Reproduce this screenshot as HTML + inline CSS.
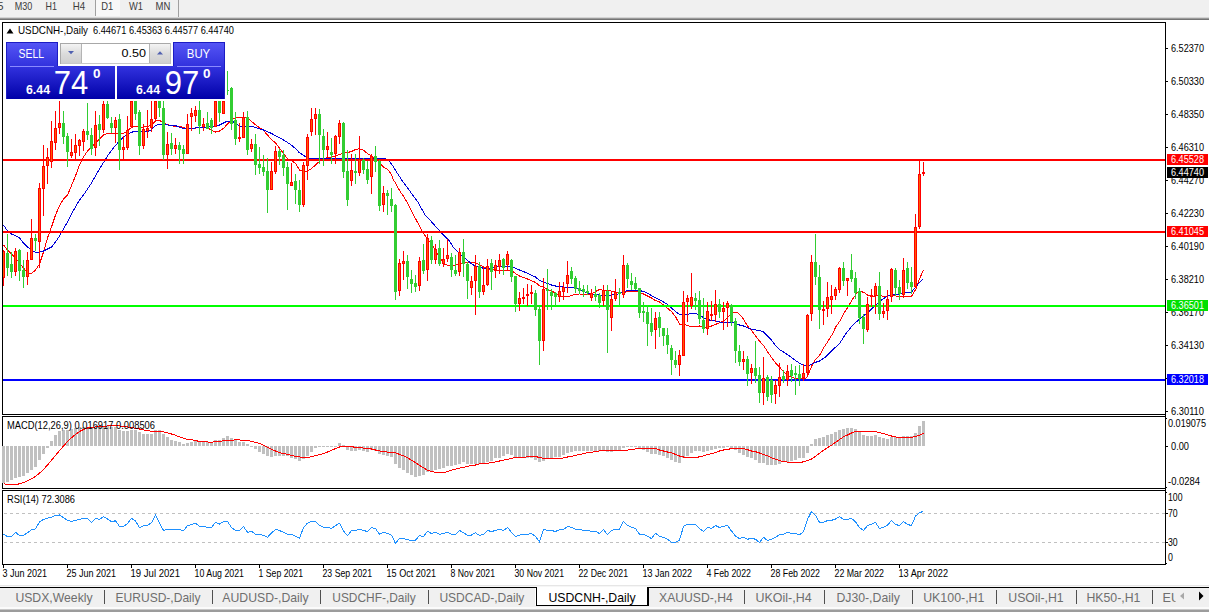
<!DOCTYPE html>
<html><head><meta charset="utf-8"><title>USDCNH-,Daily</title>
<style>
html,body{margin:0;padding:0;background:#fff;}
body{width:1209px;height:612px;overflow:hidden;font-family:"Liberation Sans",sans-serif;}
svg{display:block;}
text{font-family:"Liberation Sans",sans-serif;}
.s{font-size:10.3px;fill:#000;}
.w{font-size:10.3px;fill:#fff;}
.tb{font-size:10.5px;fill:#3c3c3c;}
.tab{font-size:12.6px;fill:#6e6e6e;}
.taba{font-size:12.6px;fill:#000;}
</style></head><body>
<svg width="1209" height="612" viewBox="0 0 1209 612">
<defs>
<linearGradient id="pg" x1="0" y1="0" x2="0" y2="1"><stop offset="0" stop-color="#5656f6"/><stop offset="0.45" stop-color="#3030dc"/><stop offset="1" stop-color="#0000a8"/></linearGradient>
<linearGradient id="bg" x1="0" y1="0" x2="0" y2="1"><stop offset="0" stop-color="#f4f4f4"/><stop offset="0.5" stop-color="#dcdcdc"/><stop offset="1" stop-color="#cfcfcf"/></linearGradient>
<clipPath id="cm"><path d="M227 23H1165V414H3V101H227Z"/></clipPath>
</defs>
<rect width="1209" height="612" fill="#fff"/>

<g shape-rendering="crispEdges">
<rect x="0" y="0" width="1209" height="17" fill="#f0f0f0"/>
<rect x="0" y="17" width="1209" height="1" fill="#d4d4d4"/>
<rect x="0" y="18" width="1209" height="1" fill="#9a9a9a"/>
<rect x="0" y="19" width="1209" height="1" fill="#747474"/>
<rect x="96" y="0" width="24" height="16" fill="#f8f8f8"/>
<rect x="95" y="0" width="1" height="16" fill="#a0a0a0"/>
<rect x="178" y="0" width="1" height="17" fill="#a0a0a0"/>
</g>
<text class="tb" x="-2.5" y="10" textLength="6" lengthAdjust="spacingAndGlyphs">5</text>
<text class="tb" x="14.8" y="10" textLength="17.6" lengthAdjust="spacingAndGlyphs">M30</text>
<text class="tb" x="45.6" y="10" textLength="11.4" lengthAdjust="spacingAndGlyphs">H1</text>
<text class="tb" x="72.8" y="10" textLength="12.4" lengthAdjust="spacingAndGlyphs">H4</text>
<text class="tb" x="101.3" y="10" textLength="12" lengthAdjust="spacingAndGlyphs">D1</text>
<text class="tb" x="129" y="10" textLength="14" lengthAdjust="spacingAndGlyphs">W1</text>
<text class="tb" x="155.6" y="10" textLength="14.8" lengthAdjust="spacingAndGlyphs">MN</text>
<g shape-rendering="crispEdges" fill="#000">
<rect x="2" y="22" width="1164" height="1"/>
<rect x="2" y="22" width="1" height="393"/>
<rect x="2" y="414" width="1164" height="1"/>
<rect x="1165" y="22" width="1" height="543"/>
<rect x="2" y="416" width="1164" height="1"/>
<rect x="2" y="416" width="1" height="73"/>
<rect x="2" y="488" width="1164" height="1"/>
<rect x="2" y="490" width="1164" height="1"/>
<rect x="2" y="490" width="1" height="75"/>
<rect x="2" y="564" width="1164" height="1"/>
</g>
<g clip-path="url(#cm)" shape-rendering="crispEdges">
<polyline fill="none" stroke="#ff0000" stroke-width="1" points="3.5,245.0 7.5,250.0 11.5,254.0 15.5,258.0 19.5,263.0 23.5,268.0 27.5,273.0 31.5,273.5 35.5,270.0 39.5,264.0 43.5,252.0 47.5,238.0 51.5,227.0 55.5,215.0 59.5,206.0 63.5,199.0 67.5,195.0 75.5,176.0 79.5,165.0 83.5,157.0 87.5,151.0 91.5,147.0 95.5,143.0 99.5,138.8 103.5,135.0 107.5,133.4 111.5,133.4 115.5,133.4 119.5,133.4 123.5,133.4 127.5,131.0 131.5,127.3 135.5,126.4 139.5,127.3 143.5,127.0 147.5,126.4 151.5,125.0 155.5,121.0 159.5,120.6 163.5,122.3 167.5,124.8 171.5,125.6 175.5,126.4 179.5,126.4 183.5,127.3 187.5,128.9 191.5,128.9 195.5,128.0 199.5,127.3 203.5,127.0 207.5,127.3 211.5,130.6 215.5,132.0 219.5,131.0 223.5,128.4 227.5,124.0 231.5,119.7 235.5,118.0 239.5,117.2 243.5,117.0 247.5,117.5 251.5,121.4 255.5,124.7 259.5,127.6 263.5,130.5 267.5,135.0 271.5,139.6 275.5,143.0 279.5,148.0 283.5,153.6 287.5,158.6 291.5,160.7 295.5,163.5 299.5,170.0 303.5,171.0 307.5,171.0 311.5,168.5 315.5,165.0 319.5,161.4 323.5,159.0 327.5,157.5 331.5,157.0 335.5,156.0 339.5,154.4 343.5,153.0 347.5,152.5 351.5,151.5 355.5,149.5 359.5,148.7 363.5,150.3 367.5,153.6 371.5,156.2 375.5,158.2 379.5,163.0 383.5,167.0 387.5,169.3 391.5,174.3 393.5,180.0 395.5,183.0 399.5,190.5 403.5,196.3 407.5,203.0 411.5,211.2 415.5,218.6 419.5,226.0 423.5,233.5 427.5,239.0 431.5,244.3 435.5,250.0 439.5,257.0 443.5,263.7 447.5,265.3 451.5,265.3 455.5,265.3 459.5,264.0 463.5,263.0 467.5,262.5 471.5,262.5 475.5,262.9 479.5,264.5 483.5,267.0 487.5,268.6 491.5,269.5 495.5,270.3 499.5,270.6 503.5,270.6 507.5,270.3 511.5,270.3 515.5,273.6 519.5,276.0 523.5,277.4 527.5,279.0 531.5,280.7 535.5,282.4 539.5,285.7 543.5,287.3 547.5,289.3 551.5,291.0 555.5,293.0 559.5,295.6 563.5,296.8 567.5,296.5 571.5,295.6 575.5,294.3 579.5,294.0 583.5,294.3 587.5,294.3 591.5,294.0 595.5,291.5 599.5,289.5 603.5,290.2 607.5,290.2 611.5,291.2 615.5,292.0 619.5,292.3 623.5,292.3 627.5,291.8 631.5,291.8 635.5,291.5 639.5,292.3 643.5,294.0 647.5,296.0 651.5,298.0 655.5,300.6 659.5,302.0 663.5,305.0 667.5,308.3 671.5,311.6 675.5,316.6 679.5,324.0 683.5,324.4 687.5,325.4 691.5,326.8 695.5,326.5 699.5,326.0 703.5,327.0 707.5,327.0 711.5,326.0 715.5,324.4 719.5,322.7 723.5,321.0 727.5,317.7 732.5,312.0 737.5,312.3 742.5,317.7 747.5,326.0 752.5,331.8 758.0,339.3 764.1,346.4 769.0,353.9 775.5,363.0 779.5,367.0 783.9,372.0 788.9,376.2 795.5,378.7 799.5,378.7 803.8,378.7 806.2,377.9 807.9,375.4 812.0,365.5 815.3,359.7 819.5,355.5 823.5,348.0 827.8,341.5 831.9,334.9 836.0,326.6 840.0,320.8 842.9,315.0 847.9,307.0 852.9,298.6 857.0,293.0 860.3,291.2 864.5,292.8 867.8,295.3 871.9,296.5 879.3,295.3 883.5,296.5 887.5,296.5 890.9,294.5 895.0,295.8 899.2,296.5 903.5,297.0 911.5,296.5 915.7,289.5 919.9,278.0 923.7,269.7" />
<polyline fill="none" stroke="#0000d8" stroke-width="1" points="3.5,225.0 7.5,231.0 11.5,234.0 15.5,235.5 19.5,238.0 23.5,243.0 27.5,247.0 31.5,250.0 35.5,252.5 39.5,252.0 43.5,251.0 47.5,249.0 51.5,247.0 55.5,242.0 59.5,236.0 63.5,229.0 67.5,222.0 71.5,214.0 75.5,207.0 79.5,200.0 83.5,195.0 87.5,189.0 91.5,183.0 95.5,176.0 99.5,169.0 103.5,162.5 107.5,156.0 111.5,150.4 115.5,145.5 119.5,141.0 123.5,137.0 127.5,134.7 131.5,132.2 135.5,131.4 139.5,131.4 143.5,132.0 147.5,131.4 151.5,129.7 155.5,125.6 159.5,124.3 163.5,124.3 167.5,125.0 171.5,125.6 175.5,125.6 179.5,127.3 183.5,128.4 187.5,128.4 191.5,128.4 195.5,128.0 199.5,127.7 203.5,127.3 207.5,127.0 211.5,126.4 215.5,126.4 219.5,125.0 223.5,123.0 227.5,121.0 231.5,121.0 235.5,123.0 239.5,126.0 243.5,126.3 247.5,126.3 251.5,126.7 255.5,127.3 259.5,128.8 263.5,130.0 267.5,131.6 271.5,133.5 275.5,135.6 279.5,137.6 283.5,140.0 287.5,142.5 291.5,145.2 295.5,148.7 299.5,152.8 303.5,155.3 307.5,158.0 311.5,158.6 385.5,158.6 389.5,161.5 393.5,167.0 397.5,173.5 400.5,178.0 401.5,179.8 405.5,185.0 409.5,190.5 413.5,196.3 417.5,201.3 421.5,208.7 425.5,215.7 429.5,219.5 433.5,224.0 437.5,228.6 441.5,233.0 445.5,237.0 449.5,241.0 453.5,247.5 455.5,249.6 459.5,253.8 463.5,257.0 467.5,260.4 471.5,263.7 475.5,266.2 479.5,267.0 483.5,268.3 487.5,268.3 491.5,267.8 495.5,267.0 499.5,266.7 503.5,266.7 507.5,266.5 511.5,267.0 515.5,268.3 519.5,270.0 523.5,271.6 527.5,273.3 531.5,275.3 535.5,277.0 539.5,280.4 543.5,282.4 547.5,283.5 551.5,285.0 555.5,286.0 559.5,286.8 563.5,287.0 567.5,287.0 571.5,287.0 575.5,287.3 579.5,289.3 583.5,291.5 587.5,293.0 591.5,294.0 595.5,294.8 599.5,295.0 603.5,295.0 607.5,295.0 611.5,295.0 615.5,294.8 619.5,293.7 623.5,291.5 627.5,290.7 631.5,290.7 635.5,290.5 639.5,290.5 643.5,291.5 647.5,293.2 651.5,295.6 655.5,297.8 659.5,299.8 663.5,302.0 667.5,304.5 671.5,308.0 675.5,311.6 679.5,314.4 683.5,314.4 687.5,314.4 691.5,313.6 695.5,313.3 699.5,315.0 703.5,317.7 707.5,319.4 711.5,320.6 715.5,321.0 719.5,322.0 723.5,322.4 727.5,322.4 731.5,322.4 735.5,323.5 739.5,325.0 743.5,326.0 747.5,327.7 751.5,329.3 755.5,330.0 759.5,330.6 763.5,332.0 767.5,336.0 771.5,340.0 775.5,345.5 780.5,350.2 788.9,355.5 795.5,360.5 801.3,364.3 805.5,365.5 808.7,365.5 813.7,363.0 819.5,361.0 825.3,357.2 831.9,350.6 840.0,343.0 845.5,334.0 852.9,325.0 861.1,317.6 867.8,312.7 874.4,306.0 880.2,301.0 885.9,297.0 890.9,294.5 895.9,295.0 900.0,293.7 904.1,292.5 911.5,292.0 915.7,287.0 919.9,282.0 923.2,278.8" />
</g>
<g shape-rendering="crispEdges">
<rect x="3" y="159" width="1162" height="2" fill="#ff0000"/>
<rect x="3" y="231" width="1162" height="2" fill="#ff0000"/>
<rect x="3" y="305" width="1162" height="2" fill="#00ff00"/>
<rect x="3" y="379" width="1162" height="2" fill="#0000ff"/>
</g>
<g shape-rendering="crispEdges" clip-path="url(#cm)">
<path fill="#32cd32" d="M7 234h1v42h-1zM6 253h3v15h-3zM11 252h1v26h-1zM10 264h3v8h-3zM19 249h1v32h-1zM18 250h3v21h-3zM23 260h1v28h-1zM22 270h3v7h-3zM35 234h1v17h-1zM34 238h3v3h-3zM63 111h1v33h-1zM62 123h3v14h-3zM67 133h1v34h-1zM66 136h3v16h-3zM87 103h1v37h-1zM86 131h3v4h-3zM91 128h1v27h-1zM90 135h3v14h-3zM99 115h1v31h-1zM98 124h3v6h-3zM107 101h1v18h-1zM106 104h3v14h-3zM111 117h1v16h-1zM110 123h3v5h-3zM119 114h1v56h-1zM118 119h3v31h-3zM135 101h1v19h-1zM134 101h3v13h-3zM139 110h1v45h-1zM138 112h3v34h-3zM159 101h1v16h-1zM158 101h3v7h-3zM163 101h1v59h-1zM162 108h3v47h-3zM171 133h1v22h-1zM170 143h3v6h-3zM179 142h1v22h-1zM178 145h3v5h-3zM183 145h1v19h-1zM182 149h3v5h-3zM199 101h1v33h-1zM198 110h3v16h-3zM207 112h1v17h-1zM206 123h3v6h-3zM211 118h1v16h-1zM210 120h3v8h-3zM219 101h1v21h-1zM218 101h3v12h-3zM227 71h1v24h-1zM226 90h3v1h-3zM231 87h1v43h-1zM230 88h3v36h-3zM235 112h1v33h-1zM234 120h3v19h-3zM247 111h1v44h-1zM246 117h3v33h-3zM255 134h1v41h-1zM254 144h3v21h-3zM259 147h1v27h-1zM258 164h3v4h-3zM263 155h1v21h-1zM262 167h3v5h-3zM267 158h1v55h-1zM266 171h3v19h-3zM279 149h1v16h-1zM278 151h3v6h-3zM283 150h1v26h-1zM282 155h3v13h-3zM287 162h1v48h-1zM286 167h3v17h-3zM295 174h1v30h-1zM294 181h3v9h-3zM299 180h1v32h-1zM298 190h3v15h-3zM319 109h1v55h-1zM318 114h3v21h-3zM323 129h1v37h-1zM322 136h3v14h-3zM331 138h1v26h-1zM330 152h3v3h-3zM343 122h1v56h-1zM342 123h3v49h-3zM347 150h1v56h-1zM346 171h3v29h-3zM355 154h1v30h-1zM354 171h3v2h-3zM363 158h1v16h-1zM362 160h3v10h-3zM367 161h1v23h-1zM366 169h3v11h-3zM375 146h1v26h-1zM374 156h3v6h-3zM379 160h1v51h-1zM378 161h3v45h-3zM387 190h1v25h-1zM386 193h3v3h-3zM391 188h1v24h-1zM390 199h3v7h-3zM395 204h1v96h-1zM394 205h3v87h-3zM407 255h1v34h-1zM406 261h3v16h-3zM411 270h1v23h-1zM410 279h3v5h-3zM415 275h1v17h-1zM414 283h3v4h-3zM423 244h1v30h-1zM422 260h3v11h-3zM431 236h1v28h-1zM430 240h3v20h-3zM439 240h1v26h-1zM438 248h3v16h-3zM451 253h1v24h-1zM450 257h3v13h-3zM455 255h1v21h-1zM454 270h3v4h-3zM463 239h1v38h-1zM462 252h3v12h-3zM467 262h1v37h-1zM466 264h3v17h-3zM479 262h1v36h-1zM478 266h3v26h-3zM491 259h1v31h-1zM490 263h3v9h-3zM503 258h1v17h-1zM502 259h3v9h-3zM511 259h1v23h-1zM510 260h3v17h-3zM515 276h1v36h-1zM514 276h3v28h-3zM535 290h1v26h-1zM534 293h3v17h-3zM539 306h1v59h-1zM538 309h3v32h-3zM547 269h1v41h-1zM546 289h3v2h-3zM551 289h1v21h-1zM550 292h3v4h-3zM555 292h1v14h-1zM554 293h3v4h-3zM571 267h1v17h-1zM570 271h3v8h-3zM575 276h1v17h-1zM574 278h3v11h-3zM579 281h1v13h-1zM578 288h3v3h-3zM583 285h1v12h-1zM582 289h3v3h-3zM587 285h1v10h-1zM586 291h3v2h-3zM595 286h1v15h-1zM594 294h3v3h-3zM599 293h1v15h-1zM598 295h3v8h-3zM607 285h1v68h-1zM606 291h3v19h-3zM619 288h1v18h-1zM618 292h3v2h-3zM627 263h1v25h-1zM626 265h3v14h-3zM631 273h1v17h-1zM630 281h3v4h-3zM635 277h1v13h-1zM634 283h3v6h-3zM639 288h1v30h-1zM638 288h3v25h-3zM643 302h1v20h-1zM642 311h3v2h-3zM647 305h1v41h-1zM646 312h3v12h-3zM651 308h1v28h-1zM650 323h3v9h-3zM659 312h1v25h-1zM658 317h3v11h-3zM663 328h1v18h-1zM662 328h3v8h-3zM667 328h1v26h-1zM666 335h3v10h-3zM671 345h1v30h-1zM670 348h3v12h-3zM675 351h1v17h-1zM674 360h3v5h-3zM695 293h1v17h-1zM694 298h3v3h-3zM699 291h1v33h-1zM698 300h3v19h-3zM703 298h1v35h-1zM702 320h3v9h-3zM719 299h1v19h-1zM718 304h3v8h-3zM731 304h1v22h-1zM730 305h3v17h-3zM735 318h1v45h-1zM734 321h3v30h-3zM739 345h1v21h-1zM738 351h3v11h-3zM747 356h1v30h-1zM746 359h3v15h-3zM755 341h1v42h-1zM754 368h3v8h-3zM759 367h1v36h-1zM758 375h3v18h-3zM767 375h1v26h-1zM766 377h3v20h-3zM771 376h1v27h-1zM770 380h3v15h-3zM783 370h1v13h-1zM782 376h3v4h-3zM791 364h1v18h-1zM790 370h3v6h-3zM795 366h1v29h-1zM794 373h3v2h-3zM799 365h1v21h-1zM798 374h3v5h-3zM815 234h1v51h-1zM814 262h3v15h-3zM819 265h1v64h-1zM818 277h3v33h-3zM843 262h1v24h-1zM842 268h3v13h-3zM851 254h1v28h-1zM850 270h3v9h-3zM855 272h1v27h-1zM854 278h3v15h-3zM859 288h1v36h-1zM858 291h3v27h-3zM863 314h1v30h-1zM862 317h3v12h-3zM879 272h1v48h-1zM878 286h3v28h-3zM895 268h1v28h-1zM894 270h3v18h-3zM899 280h1v20h-1zM898 287h3v7h-3zM907 262h1v27h-1zM906 268h3v15h-3zM911 267h1v27h-1zM910 282h3v5h-3z"/>
<path fill="#ff0000" d="M3 250h1v36h-1zM2 251h3v27h-3zM15 248h1v28h-1zM14 251h3v21h-3zM27 252h1v33h-1zM26 260h3v17h-3zM31 219h1v41h-1zM30 238h3v22h-3zM39 183h1v85h-1zM38 188h3v54h-3zM43 145h1v71h-1zM42 166h3v23h-3zM47 148h1v36h-1zM46 157h3v9h-3zM51 121h1v47h-1zM50 141h3v21h-3zM55 111h1v39h-1zM54 128h3v15h-3zM59 101h1v33h-1zM58 123h3v5h-3zM71 139h1v19h-1zM70 152h3v4h-3zM75 134h1v25h-1zM74 145h3v8h-3zM79 139h1v17h-1zM78 140h3v6h-3zM83 129h1v22h-1zM82 131h3v11h-3zM95 111h1v45h-1zM94 125h3v23h-3zM103 101h1v32h-1zM102 104h3v26h-3zM115 117h1v26h-1zM114 120h3v8h-3zM123 136h1v24h-1zM122 147h3v3h-3zM127 116h1v34h-1zM126 130h3v18h-3zM131 101h1v26h-1zM130 101h3v26h-3zM143 124h1v25h-1zM142 129h3v17h-3zM147 110h1v28h-1zM146 128h3v3h-3zM151 101h1v31h-1zM150 119h3v9h-3zM155 101h1v21h-1zM154 101h3v18h-3zM167 132h1v37h-1zM166 144h3v11h-3zM175 138h1v16h-1zM174 145h3v4h-3zM187 114h1v40h-1zM186 124h3v30h-3zM191 108h1v23h-1zM190 113h3v4h-3zM195 106h1v16h-1zM194 110h3v6h-3zM203 118h1v13h-1zM202 124h3v3h-3zM215 101h1v26h-1zM214 101h3v26h-3zM223 101h1v13h-1zM222 101h3v13h-3zM239 123h1v19h-1zM238 137h3v2h-3zM243 112h1v26h-1zM242 117h3v21h-3zM251 139h1v13h-1zM250 144h3v5h-3zM271 162h1v28h-1zM270 171h3v19h-3zM275 146h1v28h-1zM274 151h3v21h-3zM291 163h1v23h-1zM290 182h3v4h-3zM303 162h1v45h-1zM302 165h3v40h-3zM307 134h1v46h-1zM306 137h3v29h-3zM311 108h1v28h-1zM310 119h3v13h-3zM315 108h1v27h-1zM314 114h3v5h-3zM327 132h1v26h-1zM326 146h3v4h-3zM335 135h1v29h-1zM334 136h3v18h-3zM339 120h1v24h-1zM338 123h3v14h-3zM351 154h1v32h-1zM350 170h3v11h-3zM359 136h1v40h-1zM358 159h3v14h-3zM371 154h1v40h-1zM370 156h3v21h-3zM383 186h1v26h-1zM382 193h3v12h-3zM399 259h1v37h-1zM398 263h3v28h-3zM403 251h1v29h-1zM402 261h3v3h-3zM419 257h1v34h-1zM418 261h3v25h-3zM427 234h1v47h-1zM426 238h3v32h-3zM435 244h1v20h-1zM434 249h3v11h-3zM443 248h1v19h-1zM442 259h3v5h-3zM447 239h1v23h-1zM446 255h3v4h-3zM459 248h1v28h-1zM458 252h3v20h-3zM471 276h1v19h-1zM470 281h3v7h-3zM475 255h1v60h-1zM474 266h3v15h-3zM483 268h1v27h-1zM482 285h3v7h-3zM487 259h1v27h-1zM486 266h3v19h-3zM495 260h1v18h-1zM494 265h3v5h-3zM499 254h1v20h-1zM498 260h3v7h-3zM507 251h1v19h-1zM506 254h3v11h-3zM519 292h1v19h-1zM518 298h3v6h-3zM523 288h1v16h-1zM522 297h3v2h-3zM527 284h1v22h-1zM526 294h3v2h-3zM531 285h1v19h-1zM530 292h3v2h-3zM543 278h1v73h-1zM542 289h3v52h-3zM559 282h1v20h-1zM558 291h3v6h-3zM563 282h1v18h-1zM562 287h3v5h-3zM567 261h1v32h-1zM566 275h3v9h-3zM591 289h1v12h-1zM590 293h3v5h-3zM603 285h1v21h-1zM602 290h3v11h-3zM611 291h1v40h-1zM610 299h3v19h-3zM615 279h1v22h-1zM614 292h3v7h-3zM623 255h1v43h-1zM622 265h3v30h-3zM655 312h1v37h-1zM654 318h3v12h-3zM679 350h1v26h-1zM678 355h3v10h-3zM683 291h1v65h-1zM682 302h3v54h-3zM687 295h1v27h-1zM686 298h3v4h-3zM691 273h1v36h-1zM690 297h3v9h-3zM707 302h1v33h-1zM706 311h3v18h-3zM711 301h1v20h-1zM710 314h3v2h-3zM715 290h1v32h-1zM714 304h3v11h-3zM723 302h1v28h-1zM722 308h3v4h-3zM727 301h1v26h-1zM726 303h3v5h-3zM743 351h1v19h-1zM742 359h3v3h-3zM751 364h1v20h-1zM750 368h3v5h-3zM763 357h1v48h-1zM762 378h3v15h-3zM775 380h1v24h-1zM774 385h3v9h-3zM779 363h1v34h-1zM778 377h3v9h-3zM787 365h1v21h-1zM786 371h3v9h-3zM803 364h1v17h-1zM802 373h3v5h-3zM807 314h1v61h-1zM806 315h3v58h-3zM811 255h1v66h-1zM810 262h3v52h-3zM823 301h1v24h-1zM822 309h3v2h-3zM827 282h1v35h-1zM826 297h3v12h-3zM831 285h1v29h-1zM830 296h3v4h-3zM835 287h1v13h-1zM834 289h3v7h-3zM839 267h1v26h-1zM838 268h3v22h-3zM847 278h1v18h-1zM846 278h3v3h-3zM867 297h1v35h-1zM866 304h3v26h-3zM871 289h1v18h-1zM870 295h3v2h-3zM875 283h1v31h-1zM874 286h3v10h-3zM883 303h1v15h-1zM882 311h3v3h-3zM887 290h1v30h-1zM886 299h3v12h-3zM891 268h1v34h-1zM890 269h3v28h-3zM903 258h1v40h-1zM902 270h3v25h-3zM915 214h1v74h-1zM914 227h3v60h-3zM919 160h1v69h-1zM918 174h3v53h-3zM923 162h1v14h-1zM922 172h3v2h-3z"/>
<path fill="#ff5a00" d="M3 252h1v25h-1zM15 252h1v19h-1zM27 261h1v15h-1zM31 239h1v20h-1zM39 189h1v52h-1zM43 167h1v21h-1zM47 158h1v7h-1zM51 142h1v19h-1zM55 129h1v13h-1zM59 124h1v3h-1zM71 153h1v2h-1zM75 146h1v6h-1zM79 141h1v4h-1zM83 132h1v9h-1zM95 126h1v21h-1zM103 105h1v24h-1zM115 121h1v6h-1zM123 148h1v1h-1zM127 131h1v16h-1zM131 102h1v24h-1zM143 130h1v15h-1zM147 129h1v1h-1zM151 120h1v7h-1zM155 102h1v16h-1zM167 145h1v9h-1zM175 146h1v2h-1zM187 125h1v28h-1zM191 114h1v2h-1zM195 111h1v4h-1zM203 125h1v1h-1zM215 102h1v24h-1zM223 102h1v11h-1zM243 118h1v19h-1zM251 145h1v3h-1zM271 172h1v17h-1zM275 152h1v19h-1zM291 183h1v2h-1zM303 166h1v38h-1zM307 138h1v27h-1zM311 120h1v11h-1zM315 115h1v3h-1zM327 147h1v2h-1zM335 137h1v16h-1zM339 124h1v12h-1zM351 171h1v9h-1zM359 160h1v12h-1zM371 157h1v19h-1zM383 194h1v10h-1zM399 264h1v26h-1zM403 262h1v1h-1zM419 262h1v23h-1zM427 239h1v30h-1zM435 250h1v9h-1zM443 260h1v3h-1zM447 256h1v2h-1zM459 253h1v18h-1zM471 282h1v5h-1zM475 267h1v13h-1zM483 286h1v5h-1zM487 267h1v17h-1zM495 266h1v3h-1zM499 261h1v5h-1zM507 255h1v9h-1zM519 299h1v4h-1zM543 290h1v50h-1zM559 292h1v4h-1zM563 288h1v3h-1zM567 276h1v7h-1zM591 294h1v3h-1zM603 291h1v9h-1zM611 300h1v17h-1zM615 293h1v5h-1zM623 266h1v28h-1zM655 319h1v10h-1zM679 356h1v8h-1zM683 303h1v52h-1zM687 299h1v2h-1zM691 298h1v7h-1zM707 312h1v16h-1zM715 305h1v9h-1zM723 309h1v2h-1zM727 304h1v3h-1zM743 360h1v1h-1zM751 369h1v3h-1zM763 379h1v13h-1zM775 386h1v7h-1zM779 378h1v7h-1zM787 372h1v7h-1zM803 374h1v3h-1zM807 316h1v56h-1zM811 263h1v50h-1zM827 298h1v10h-1zM831 297h1v2h-1zM835 290h1v5h-1zM839 269h1v20h-1zM847 279h1v1h-1zM867 305h1v24h-1zM875 287h1v8h-1zM883 312h1v1h-1zM887 300h1v10h-1zM891 270h1v26h-1zM903 271h1v23h-1zM915 228h1v58h-1zM919 175h1v51h-1z"/>
</g>
<g shape-rendering="crispEdges" fill="#000">
<rect x="1166" y="48" width="2" height="1"/>
<rect x="1166" y="81" width="2" height="1"/>
<rect x="1166" y="114" width="2" height="1"/>
<rect x="1166" y="147" width="2" height="1"/>
<rect x="1166" y="180" width="2" height="1"/>
<rect x="1166" y="213" width="2" height="1"/>
<rect x="1166" y="246" width="2" height="1"/>
<rect x="1166" y="279" width="2" height="1"/>
<rect x="1166" y="312" width="2" height="1"/>
<rect x="1166" y="345" width="2" height="1"/>
<rect x="1166" y="378" width="2" height="1"/>
<rect x="1166" y="411" width="2" height="1"/>
</g>
<text class="s" x="1171" y="52" textLength="33" lengthAdjust="spacingAndGlyphs">6.52370</text>
<text class="s" x="1171" y="85" textLength="33" lengthAdjust="spacingAndGlyphs">6.50330</text>
<text class="s" x="1171" y="118" textLength="33" lengthAdjust="spacingAndGlyphs">6.48350</text>
<text class="s" x="1171" y="151" textLength="33" lengthAdjust="spacingAndGlyphs">6.46310</text>
<text class="s" x="1171" y="184" textLength="33" lengthAdjust="spacingAndGlyphs">6.44270</text>
<text class="s" x="1171" y="217" textLength="33" lengthAdjust="spacingAndGlyphs">6.42230</text>
<text class="s" x="1171" y="250" textLength="33" lengthAdjust="spacingAndGlyphs">6.40190</text>
<text class="s" x="1171" y="283" textLength="33" lengthAdjust="spacingAndGlyphs">6.38210</text>
<text class="s" x="1171" y="316" textLength="33" lengthAdjust="spacingAndGlyphs">6.36170</text>
<text class="s" x="1171" y="349" textLength="33" lengthAdjust="spacingAndGlyphs">6.34130</text>
<text class="s" x="1171" y="382" textLength="33" lengthAdjust="spacingAndGlyphs">6.32150</text>
<text class="s" x="1171" y="415" textLength="33" lengthAdjust="spacingAndGlyphs">6.30110</text>
<g shape-rendering="crispEdges">
<rect x="1167" y="154" width="41" height="11" fill="#ff0000"/>
<rect x="1167" y="167" width="41" height="11" fill="#000000"/>
<rect x="1167" y="226" width="41" height="11" fill="#ff0000"/>
<rect x="1167" y="300" width="41" height="11" fill="#00e000"/>
<rect x="1167" y="374" width="41" height="11" fill="#0000ff"/>
</g>
<text class="w" x="1171" y="163" textLength="33" lengthAdjust="spacingAndGlyphs">6.45528</text>
<text class="w" x="1171" y="176" textLength="33" lengthAdjust="spacingAndGlyphs">6.44740</text>
<text class="w" x="1171" y="235" textLength="33" lengthAdjust="spacingAndGlyphs">6.41045</text>
<text class="w" x="1171" y="309" textLength="33" lengthAdjust="spacingAndGlyphs">6.36501</text>
<text class="w" x="1171" y="383" textLength="33" lengthAdjust="spacingAndGlyphs">6.32018</text>
<path d="M6.5 33.5L10 28.5L13.5 33.5Z" fill="#000"/>
<text class="s" x="18" y="34" textLength="70" lengthAdjust="spacingAndGlyphs">USDCNH-,Daily</text>
<text class="s" x="93" y="34" textLength="141" lengthAdjust="spacingAndGlyphs">6.44671 6.45363 6.44577 6.44740</text>
<g shape-rendering="crispEdges">
<path fill="#c0c0c0" d="M2 446h3v37h-3zM6 446h3v36h-3zM10 446h3v34h-3zM14 446h3v32h-3zM18 446h3v31h-3zM22 446h3v30h-3zM26 446h3v27h-3zM30 446h3v24h-3zM34 446h3v21h-3zM38 446h3v14h-3zM42 446h3v8h-3zM46 446h3v2h-3zM50 441h3v5h-3zM54 435h3v11h-3zM58 431h3v15h-3zM62 430h3v16h-3zM66 430h3v16h-3zM70 429h3v17h-3zM74 428h3v18h-3zM78 427h3v19h-3zM82 427h3v19h-3zM86 427h3v19h-3zM90 428h3v18h-3zM94 427h3v19h-3zM98 427h3v19h-3zM102 426h3v20h-3zM106 426h3v20h-3zM110 427h3v19h-3zM114 427h3v19h-3zM118 430h3v16h-3zM122 431h3v15h-3zM126 431h3v15h-3zM130 430h3v16h-3zM134 430h3v16h-3zM138 432h3v14h-3zM142 434h3v12h-3zM146 434h3v12h-3zM150 434h3v12h-3zM154 430h3v16h-3zM158 430h3v16h-3zM162 434h3v12h-3zM166 437h3v9h-3zM170 440h3v6h-3zM174 441h3v5h-3zM178 442h3v4h-3zM182 444h3v2h-3zM186 443h3v3h-3zM190 442h3v4h-3zM194 441h3v5h-3zM198 442h3v4h-3zM202 442h3v4h-3zM206 442h3v4h-3zM210 442h3v4h-3zM214 440h3v6h-3zM218 440h3v6h-3zM222 438h3v8h-3zM226 436h3v10h-3zM230 438h3v8h-3zM234 440h3v6h-3zM238 442h3v4h-3zM242 442h3v4h-3zM246 444h3v2h-3zM250 446h3v1h-3zM254 446h3v3h-3zM258 446h3v6h-3zM262 446h3v8h-3zM266 446h3v10h-3zM270 446h3v11h-3zM274 446h3v10h-3zM278 446h3v10h-3zM282 446h3v10h-3zM286 446h3v10h-3zM290 446h3v12h-3zM294 446h3v13h-3zM298 446h3v15h-3zM302 446h3v13h-3zM306 446h3v10h-3zM310 446h3v6h-3zM314 446h3v2h-3zM318 446h3v1h-3zM322 446h3v1h-3zM326 446h3v1h-3zM330 446h3v1h-3zM334 446h3v1h-3zM338 443h3v3h-3zM342 445h3v1h-3zM346 446h3v4h-3zM350 446h3v5h-3zM354 446h3v5h-3zM358 446h3v4h-3zM362 446h3v5h-3zM366 446h3v6h-3zM370 446h3v4h-3zM374 446h3v5h-3zM378 446h3v8h-3zM382 446h3v9h-3zM386 446h3v10h-3zM390 446h3v11h-3zM394 446h3v18h-3zM398 446h3v22h-3zM402 446h3v24h-3zM406 446h3v27h-3zM410 446h3v29h-3zM414 446h3v31h-3zM418 446h3v30h-3zM422 446h3v29h-3zM426 446h3v26h-3zM430 446h3v25h-3zM434 446h3v24h-3zM438 446h3v23h-3zM442 446h3v22h-3zM446 446h3v20h-3zM450 446h3v20h-3zM454 446h3v19h-3zM458 446h3v18h-3zM462 446h3v16h-3zM466 446h3v18h-3zM470 446h3v18h-3zM474 446h3v18h-3zM478 446h3v18h-3zM482 446h3v17h-3zM486 446h3v16h-3zM490 446h3v15h-3zM494 446h3v12h-3zM498 446h3v12h-3zM502 446h3v10h-3zM506 446h3v8h-3zM510 446h3v9h-3zM514 446h3v11h-3zM518 446h3v11h-3zM522 446h3v12h-3zM526 446h3v12h-3zM530 446h3v12h-3zM534 446h3v14h-3zM538 446h3v16h-3zM542 446h3v15h-3zM546 446h3v12h-3zM550 446h3v12h-3zM554 446h3v11h-3zM558 446h3v11h-3zM562 446h3v9h-3zM566 446h3v7h-3zM570 446h3v6h-3zM574 446h3v5h-3zM578 446h3v5h-3zM582 446h3v5h-3zM586 446h3v5h-3zM590 446h3v5h-3zM594 446h3v5h-3zM598 446h3v5h-3zM602 446h3v5h-3zM606 446h3v6h-3zM610 446h3v6h-3zM614 446h3v4h-3zM618 446h3v4h-3zM622 446h3v2h-3zM626 446h3v1h-3zM630 446h3v1h-3zM634 446h3v1h-3zM638 446h3v2h-3zM642 446h3v4h-3zM646 446h3v6h-3zM650 446h3v8h-3zM654 446h3v8h-3zM658 446h3v9h-3zM662 446h3v10h-3zM666 446h3v12h-3zM670 446h3v14h-3zM674 446h3v16h-3zM678 446h3v17h-3zM682 446h3v12h-3zM686 446h3v10h-3zM690 446h3v7h-3zM694 446h3v5h-3zM698 446h3v5h-3zM702 446h3v6h-3zM706 446h3v5h-3zM710 446h3v4h-3zM714 446h3v3h-3zM718 446h3v2h-3zM722 446h3v2h-3zM726 446h3v1h-3zM730 446h3v3h-3zM734 446h3v4h-3zM738 446h3v7h-3zM742 446h3v9h-3zM746 446h3v11h-3zM750 446h3v12h-3zM754 446h3v14h-3zM758 446h3v17h-3zM762 446h3v17h-3zM766 446h3v19h-3zM770 446h3v19h-3zM774 446h3v19h-3zM778 446h3v18h-3zM782 446h3v16h-3zM786 446h3v16h-3zM790 446h3v15h-3zM794 446h3v14h-3zM798 446h3v12h-3zM802 446h3v12h-3zM806 446h3v7h-3zM810 444h3v2h-3zM814 439h3v7h-3zM818 438h3v8h-3zM822 437h3v9h-3zM826 435h3v11h-3zM830 434h3v12h-3zM834 432h3v14h-3zM838 430h3v16h-3zM842 429h3v17h-3zM846 428h3v18h-3zM850 428h3v18h-3zM854 429h3v17h-3zM858 432h3v14h-3zM862 435h3v11h-3zM866 436h3v10h-3zM870 436h3v10h-3zM874 435h3v11h-3zM878 437h3v9h-3zM882 438h3v8h-3zM886 439h3v7h-3zM890 437h3v9h-3zM894 437h3v9h-3zM898 437h3v9h-3zM902 436h3v10h-3zM906 436h3v10h-3zM910 436h3v10h-3zM914 433h3v13h-3zM918 426h3v20h-3zM922 421h3v25h-3z"/>
</g>
<polyline fill="none" stroke="#ff0000" stroke-width="1" points="3.5,483.8 7.5,484.3 11.5,484.6 15.5,484.6 19.5,483.8 23.5,482.5 27.5,480.8 31.5,478.7 35.5,476.4 39.5,473.2 43.5,469.4 47.5,465.0 51.5,460.3 55.5,455.5 59.5,450.7 63.5,446.0 67.5,441.6 71.5,437.8 75.5,434.5 79.5,431.5 83.5,429.5 87.5,428.0 91.5,427.5 95.5,427.0 99.5,426.6 103.5,426.2 107.5,426.0 111.5,425.7 115.5,425.7 119.5,426.0 123.5,426.2 127.5,426.9 131.5,427.6 135.5,428.2 139.5,429.0 143.5,429.9 147.5,430.7 151.5,431.2 155.5,431.2 159.5,431.2 163.5,431.9 167.5,432.8 171.5,434.0 175.5,435.3 179.5,436.8 183.5,438.3 187.5,439.3 191.5,439.8 195.5,440.5 199.5,441.5 203.5,441.5 207.5,442.0 211.5,442.4 215.5,441.5 219.5,441.5 223.5,440.8 227.5,440.3 231.5,440.3 235.5,439.8 239.5,440.0 243.5,440.3 247.5,440.3 251.5,441.3 255.5,442.4 259.5,443.4 263.5,445.3 267.5,447.4 271.5,449.4 275.5,451.0 279.5,452.7 283.5,453.4 287.5,454.4 291.5,455.5 295.5,456.3 299.5,457.0 303.5,457.5 307.5,457.5 311.5,456.8 315.5,455.7 319.5,454.7 323.5,453.5 327.5,452.0 331.5,450.2 335.5,448.6 339.5,447.0 343.5,446.1 347.5,446.3 351.5,446.6 355.5,447.4 359.5,447.7 363.5,448.1 367.5,448.6 371.5,449.0 375.5,450.0 379.5,451.0 383.5,451.3 387.5,452.2 391.5,452.4 395.5,452.7 399.5,454.4 403.5,455.8 407.5,457.7 411.5,460.3 415.5,462.6 419.5,465.3 423.5,467.9 427.5,470.2 431.5,471.7 435.5,472.2 439.5,472.4 443.5,472.4 447.5,471.7 451.5,470.2 455.5,469.1 459.5,468.2 463.5,467.3 467.5,466.3 471.5,465.6 475.5,465.0 479.5,463.8 483.5,463.3 487.5,463.1 491.5,462.8 495.5,461.8 499.5,461.0 503.5,460.1 507.5,459.3 511.5,458.3 515.5,457.5 519.5,457.5 523.5,457.5 527.5,456.8 531.5,456.5 535.5,456.5 539.5,457.5 543.5,458.2 547.5,458.2 551.5,458.2 555.5,458.2 559.5,458.2 563.5,458.0 567.5,457.0 571.5,456.4 575.5,455.4 579.5,454.5 583.5,453.7 587.5,452.7 591.5,452.2 595.5,451.5 599.5,451.0 603.5,450.5 607.5,450.5 611.5,450.5 615.5,450.5 619.5,450.5 623.5,450.5 627.5,450.2 631.5,449.4 635.5,449.0 639.5,448.2 643.5,448.2 647.5,448.2 651.5,448.2 655.5,448.6 659.5,450.0 663.5,451.0 667.5,452.0 671.5,452.7 675.5,454.4 679.5,456.0 683.5,457.0 687.5,457.7 691.5,457.7 695.5,457.7 699.5,456.8 703.5,455.8 707.5,454.7 711.5,453.7 715.5,452.4 719.5,451.0 723.5,450.0 727.5,449.4 731.5,448.6 735.5,448.2 739.5,448.2 743.5,448.6 747.5,449.7 751.5,451.0 755.5,451.7 759.5,453.0 763.5,454.4 767.5,455.8 771.5,457.7 775.5,459.3 779.5,460.6 783.5,461.6 787.5,462.1 791.5,462.8 795.5,462.8 799.5,462.6 803.5,461.8 807.5,460.6 811.5,459.0 815.5,456.3 819.5,453.2 823.5,450.4 827.5,447.7 831.5,445.3 835.5,442.4 839.5,439.5 843.5,436.8 847.5,435.0 851.5,433.0 855.5,431.5 859.5,431.5 863.5,431.2 867.5,431.2 871.5,431.2 875.5,431.7 879.5,432.7 883.5,433.7 887.5,434.8 891.5,436.0 895.5,437.0 899.5,437.3 903.5,437.3 907.5,437.3 911.5,437.3 915.5,436.5 919.5,435.3 923.5,433.2" shape-rendering="crispEdges"/>
<text class="s" x="7" y="429" textLength="148" lengthAdjust="spacingAndGlyphs">MACD(12,26,9) 0.016917 0.008506</text>
<g shape-rendering="crispEdges" fill="#000"><rect x="1166" y="418" width="1" height="1"/><rect x="1166" y="446" width="2" height="1"/><rect x="1166" y="487" width="1" height="1"/></g>
<text class="s" x="1168" y="427" textLength="38" lengthAdjust="spacingAndGlyphs">0.019075</text>
<text class="s" x="1171" y="450" textLength="18" lengthAdjust="spacingAndGlyphs">0.00</text>
<text class="s" x="1168" y="485" textLength="32" lengthAdjust="spacingAndGlyphs">-0.0284</text>
<g shape-rendering="crispEdges" stroke="#c0c0c0" stroke-width="1" stroke-dasharray="3 3">
<line x1="4" y1="513.5" x2="1165" y2="513.5"/>
<line x1="4" y1="542.5" x2="1165" y2="542.5"/>
</g>
<polyline fill="none" stroke="#1e90ff" stroke-width="1" points="3.5,534.3 7.5,536.5 11.5,536.5 15.5,532.3 19.5,535.5 23.5,535.5 27.5,532.7 31.5,529.7 35.5,529.0 39.5,521.9 43.5,519.4 47.5,518.1 51.5,517.4 55.5,515.3 59.5,515.0 63.5,517.8 67.5,520.3 71.5,521.6 75.5,520.3 79.5,519.4 83.5,518.3 87.5,518.3 91.5,522.7 95.5,518.3 99.5,519.4 103.5,516.5 107.5,519.1 111.5,521.6 115.5,520.8 119.5,526.4 123.5,526.4 127.5,523.6 131.5,518.3 135.5,521.1 139.5,527.7 143.5,525.6 147.5,525.2 151.5,522.7 155.5,515.3 159.5,523.2 163.5,530.5 167.5,529.4 171.5,529.4 175.5,529.4 179.5,529.4 183.5,530.7 187.5,525.7 191.5,524.4 195.5,523.2 199.5,526.4 203.5,526.4 207.5,527.4 211.5,527.4 215.5,522.4 219.5,524.1 223.5,521.6 227.5,521.6 231.5,527.4 235.5,530.5 239.5,530.5 243.5,526.5 247.5,532.3 251.5,531.3 255.5,534.3 259.5,534.3 263.5,535.5 267.5,537.3 271.5,533.0 275.5,529.4 279.5,530.5 283.5,532.3 287.5,534.3 291.5,534.3 295.5,536.3 299.5,538.1 303.5,527.7 307.5,523.1 311.5,521.4 315.5,521.6 319.5,525.2 323.5,527.4 327.5,527.4 331.5,528.5 335.5,525.7 339.5,523.2 343.5,531.0 347.5,535.5 351.5,530.7 355.5,530.5 359.5,529.4 363.5,530.5 367.5,531.5 371.5,527.7 375.5,528.5 379.5,534.3 383.5,532.3 387.5,533.5 391.5,535.1 395.5,543.4 399.5,538.5 403.5,538.5 407.5,539.6 411.5,540.6 415.5,540.1 419.5,535.6 423.5,536.5 427.5,531.3 431.5,533.5 435.5,532.3 439.5,534.3 443.5,533.5 447.5,532.3 451.5,534.3 455.5,534.3 459.5,530.5 463.5,532.7 467.5,535.5 471.5,535.1 475.5,532.7 479.5,535.6 483.5,534.3 487.5,530.5 491.5,531.5 495.5,530.5 499.5,529.4 503.5,530.5 507.5,527.4 511.5,532.3 515.5,536.5 519.5,535.1 523.5,534.7 527.5,534.3 531.5,533.5 535.5,536.5 539.5,541.8 543.5,529.4 547.5,530.5 551.5,530.5 555.5,531.5 559.5,529.7 563.5,529.4 567.5,526.5 571.5,527.4 575.5,529.4 579.5,529.4 583.5,530.5 587.5,530.5 591.5,531.3 595.5,531.3 599.5,533.5 603.5,529.4 607.5,534.7 611.5,530.5 615.5,529.4 619.5,529.4 623.5,521.4 627.5,525.2 631.5,527.2 635.5,528.5 639.5,534.3 643.5,534.3 647.5,536.3 651.5,538.5 655.5,533.2 659.5,536.3 663.5,537.3 667.5,539.3 671.5,542.3 675.5,542.3 679.5,540.1 683.5,526.4 687.5,524.1 691.5,524.1 695.5,524.4 699.5,528.5 703.5,531.3 707.5,527.4 711.5,528.5 715.5,525.6 719.5,527.4 723.5,526.4 727.5,525.6 731.5,531.0 735.5,536.3 739.5,538.5 743.5,537.3 747.5,539.3 751.5,538.1 755.5,539.3 759.5,542.6 763.5,537.3 767.5,540.6 771.5,539.3 775.5,537.3 779.5,534.7 783.5,534.3 787.5,532.3 791.5,533.5 795.5,533.5 799.5,534.7 803.5,531.8 807.5,519.4 811.5,511.5 815.5,515.3 819.5,522.4 823.5,522.2 827.5,520.6 831.5,520.3 835.5,519.1 839.5,516.6 843.5,519.4 847.5,519.4 851.5,518.3 855.5,521.9 859.5,527.7 863.5,530.5 867.5,525.7 871.5,524.1 875.5,522.4 879.5,528.5 883.5,527.2 887.5,525.2 891.5,520.6 895.5,524.4 899.5,525.6 903.5,521.6 907.5,524.4 911.5,525.6 915.5,516.1 919.5,512.5 923.5,511.5" shape-rendering="crispEdges"/>
<text class="s" x="7" y="503" textLength="68" lengthAdjust="spacingAndGlyphs">RSI(14) 72.3086</text>
<g shape-rendering="crispEdges" fill="#000"><rect x="1166" y="492" width="1" height="1"/><rect x="1166" y="513" width="2" height="1"/><rect x="1166" y="542" width="2" height="1"/><rect x="1166" y="563" width="1" height="1"/></g>
<text class="s" x="1168" y="501" textLength="14.5" lengthAdjust="spacingAndGlyphs">100</text>
<text class="s" x="1168" y="517" textLength="9.7" lengthAdjust="spacingAndGlyphs">70</text>
<text class="s" x="1168" y="546" textLength="9.7" lengthAdjust="spacingAndGlyphs">30</text>
<text class="s" x="1168" y="561" textLength="4.9" lengthAdjust="spacingAndGlyphs">0</text>
<g shape-rendering="crispEdges" fill="#000">
<rect x="3" y="565" width="1" height="3"/>
<rect x="67" y="565" width="1" height="3"/>
<rect x="131" y="565" width="1" height="3"/>
<rect x="195" y="565" width="1" height="3"/>
<rect x="259" y="565" width="1" height="3"/>
<rect x="323" y="565" width="1" height="3"/>
<rect x="387" y="565" width="1" height="3"/>
<rect x="451" y="565" width="1" height="3"/>
<rect x="515" y="565" width="1" height="3"/>
<rect x="579" y="565" width="1" height="3"/>
<rect x="643" y="565" width="1" height="3"/>
<rect x="707" y="565" width="1" height="3"/>
<rect x="771" y="565" width="1" height="3"/>
<rect x="835" y="565" width="1" height="3"/>
<rect x="899" y="565" width="1" height="3"/>
</g>
<text class="s" x="2.5" y="577.2" textLength="44.5" lengthAdjust="spacingAndGlyphs">3 Jun 2021</text>
<text class="s" x="66.5" y="577.2" textLength="49.5" lengthAdjust="spacingAndGlyphs">25 Jun 2021</text>
<text class="s" x="130.5" y="577.2" textLength="49.5" lengthAdjust="spacingAndGlyphs">19 Jul 2021</text>
<text class="s" x="194.5" y="577.2" textLength="49.5" lengthAdjust="spacingAndGlyphs">10 Aug 2021</text>
<text class="s" x="258.5" y="577.2" textLength="44.5" lengthAdjust="spacingAndGlyphs">1 Sep 2021</text>
<text class="s" x="322.5" y="577.2" textLength="49.5" lengthAdjust="spacingAndGlyphs">23 Sep 2021</text>
<text class="s" x="386.5" y="577.2" textLength="49.5" lengthAdjust="spacingAndGlyphs">15 Oct 2021</text>
<text class="s" x="450.5" y="577.2" textLength="44.5" lengthAdjust="spacingAndGlyphs">8 Nov 2021</text>
<text class="s" x="514.5" y="577.2" textLength="49.5" lengthAdjust="spacingAndGlyphs">30 Nov 2021</text>
<text class="s" x="578.5" y="577.2" textLength="49.5" lengthAdjust="spacingAndGlyphs">22 Dec 2021</text>
<text class="s" x="642.5" y="577.2" textLength="49.5" lengthAdjust="spacingAndGlyphs">13 Jan 2022</text>
<text class="s" x="706.5" y="577.2" textLength="44.5" lengthAdjust="spacingAndGlyphs">4 Feb 2022</text>
<text class="s" x="770.5" y="577.2" textLength="49.5" lengthAdjust="spacingAndGlyphs">28 Feb 2022</text>
<text class="s" x="834.5" y="577.2" textLength="49.5" lengthAdjust="spacingAndGlyphs">22 Mar 2022</text>
<text class="s" x="898.5" y="577.2" textLength="49.5" lengthAdjust="spacingAndGlyphs">13 Apr 2022</text>
<g shape-rendering="crispEdges">
<rect x="0" y="585" width="1209" height="1" fill="#e6e6e6"/>
<rect x="0" y="586" width="1209" height="1" fill="#f6f6f6"/>
<rect x="0" y="588" width="1209" height="19" fill="#f0f0f0"/>
<rect x="0" y="587" width="1209" height="1" fill="#000"/>
<rect x="0" y="607" width="1209" height="2" fill="#fbfbfb"/>
<rect x="0" y="609" width="1209" height="1" fill="#c8c8c8"/>
<rect x="0" y="610" width="1209" height="2" fill="#9c9c9c"/>
<rect x="537" y="587" width="110" height="18" fill="#fff"/>
<rect x="536" y="587" width="1" height="19" fill="#000"/>
<rect x="536" y="605" width="113" height="1" fill="#000"/>
<rect x="647" y="588" width="2" height="18" fill="#000"/>
<rect x="535" y="588" width="1" height="17" fill="#fff"/>
<rect x="104" y="590" width="1" height="14" fill="#505050"/>
<rect x="212" y="590" width="1" height="14" fill="#505050"/>
<rect x="320" y="590" width="1" height="14" fill="#505050"/>
<rect x="428" y="590" width="1" height="14" fill="#505050"/>
<rect x="744" y="590" width="1" height="14" fill="#505050"/>
<rect x="824" y="590" width="1" height="14" fill="#505050"/>
<rect x="912" y="590" width="1" height="14" fill="#505050"/>
<rect x="996" y="590" width="1" height="14" fill="#505050"/>
<rect x="1076" y="590" width="1" height="14" fill="#505050"/>
<rect x="1152" y="590" width="1" height="14" fill="#505050"/>
</g>
<text class="tab" x="15.4" y="602" textLength="77.2" lengthAdjust="spacingAndGlyphs">USDX,Weekly</text>
<text class="tab" x="115.5" y="602" textLength="85" lengthAdjust="spacingAndGlyphs">EURUSD-,Daily</text>
<text class="tab" x="222.3" y="602" textLength="86.4" lengthAdjust="spacingAndGlyphs">AUDUSD-,Daily</text>
<text class="tab" x="332.3" y="602" textLength="83.4" lengthAdjust="spacingAndGlyphs">USDCHF-,Daily</text>
<text class="tab" x="439.4" y="602" textLength="85" lengthAdjust="spacingAndGlyphs">USDCAD-,Daily</text>
<text class="taba" x="548.5" y="602" textLength="87.1" lengthAdjust="spacingAndGlyphs">USDCNH-,Daily</text>
<text class="tab" x="659" y="602" textLength="73.8" lengthAdjust="spacingAndGlyphs">XAUUSD-,H4</text>
<text class="tab" x="755.5" y="602" textLength="56.1" lengthAdjust="spacingAndGlyphs">UKOil-,H4</text>
<text class="tab" x="836.4" y="602" textLength="63.4" lengthAdjust="spacingAndGlyphs">DJ30-,Daily</text>
<text class="tab" x="923.2" y="602" textLength="61.2" lengthAdjust="spacingAndGlyphs">UK100-,H1</text>
<text class="tab" x="1008.3" y="602" textLength="55.3" lengthAdjust="spacingAndGlyphs">USOil-,H1</text>
<text class="tab" x="1086.4" y="602" textLength="54" lengthAdjust="spacingAndGlyphs">HK50-,H1</text>
<clipPath id="ce"><rect x="1155" y="588" width="20.5" height="18"/></clipPath>
<text class="tab" x="1162.5" y="602" clip-path="url(#ce)">EU</text>
<path d="M1184 592.5v7l-4-3.5z" fill="#a8a8a8"/>
<path d="M1199 591.5v9l4.5-4.5z" fill="#000"/>
<g shape-rendering="crispEdges">
<path d="M6 42H58V66H115V99H6Z" fill="url(#pg)"/>
<path d="M173 42H225V99H117V66H173Z" fill="url(#pg)"/>
<path d="M6.5 98.5V42.5H57.5V66" fill="none" stroke="#1c1cc4" stroke-width="1"/>
<path d="M173.5 66V42.5H224.5V98.5" fill="none" stroke="#1c1cc4" stroke-width="1"/>
<rect x="10" y="66" width="44" height="1" fill="#8a8aff"/>
<rect x="177" y="66" width="44" height="1" fill="#8a8aff"/>
<rect x="60" y="43" width="111" height="21" fill="#fff" stroke="none"/>
<rect x="60" y="43" width="111" height="1" fill="#a8a8a8"/><rect x="60" y="63" width="111" height="1" fill="#c8c8c8"/><rect x="60" y="43" width="1" height="21" fill="#a8a8a8"/><rect x="170" y="43" width="1" height="21" fill="#c0c0c0"/>
<rect x="61" y="44" width="20" height="19" fill="url(#bg)"/><rect x="81" y="44" width="1" height="19" fill="#b4b4b4"/>
<rect x="150" y="44" width="20" height="19" fill="url(#bg)"/><rect x="149" y="44" width="1" height="19" fill="#b4b4b4"/>
</g>
<path d="M68 51h6l-3 3.2z" fill="#5060b0"/>
<path d="M157 54.5h6l-3-3.2z" fill="#5060b0"/>
<text x="121.5" y="57" font-size="11.2px" fill="#000" textLength="24.5" lengthAdjust="spacingAndGlyphs">0.50</text>
<text x="18.5" y="58" font-size="12.4px" fill="#fff" textLength="25.5" lengthAdjust="spacingAndGlyphs">SELL</text>
<text x="186.8" y="58" font-size="12.4px" fill="#fff" textLength="23.4" lengthAdjust="spacingAndGlyphs">BUY</text>
<text x="26" y="94" font-size="12px" font-weight="bold" fill="#fff" textLength="24" lengthAdjust="spacingAndGlyphs">6.44</text>
<text x="93" y="77.8" font-size="12px" font-weight="bold" fill="#fff" textLength="7.5" lengthAdjust="spacingAndGlyphs">0</text>
<text x="136" y="94" font-size="12px" font-weight="bold" fill="#fff" textLength="24" lengthAdjust="spacingAndGlyphs">6.44</text>
<text x="203" y="77.8" font-size="12px" font-weight="bold" fill="#fff" textLength="7.5" lengthAdjust="spacingAndGlyphs">0</text>
<text x="53.8" y="94" font-size="34px" fill="#fff" textLength="34.5" lengthAdjust="spacingAndGlyphs">74</text>
<text x="164.8" y="94" font-size="34px" fill="#fff" textLength="34.5" lengthAdjust="spacingAndGlyphs">97</text>
</svg></body></html>
